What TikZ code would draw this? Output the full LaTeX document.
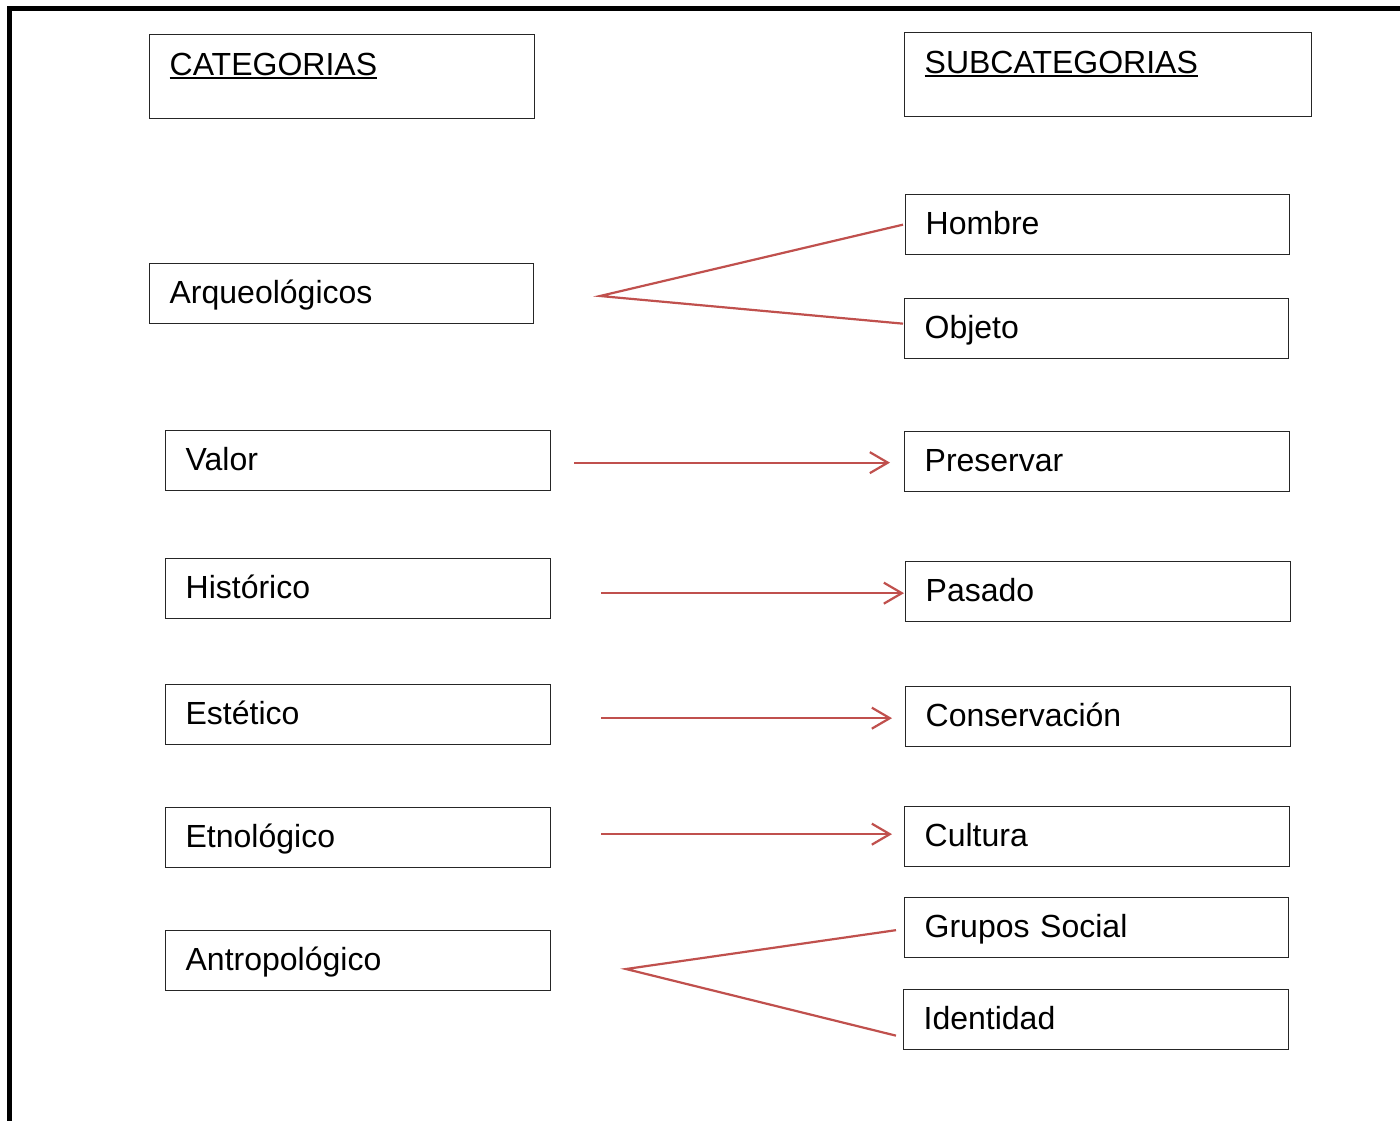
\documentclass[tikz,border=0pt]{standalone}
\usepackage{fontspec}
\setmainfont{Liberation Sans}
\usetikzlibrary{arrows.meta}
\definecolor{linkred}{HTML}{C0504D}
\newcommand\ulword[1]{\setbox0\hbox{#1}\rlap{\rule[-3.5pt]{\wd0}{2pt}}\box0}
\begin{document}
\begin{tikzpicture}[x=1pt,y=-1pt,
  box/.style={draw=black!85, line width=1.3pt, rectangle, anchor=north west,
    inner xsep=20pt, inner ysep=0pt, text height=40pt, text depth=20pt,
    text width=345pt, align=left, font=\fontsize{32}{38}\selectfont},
  titlebox/.style={box, text height=41pt, text depth=43pt},
  link/.style={draw=linkred, line width=2.2pt},
  arr/.style={link, -{Straight Barb[length=18pt,width=21pt,line width=2.2pt]}}]
\useasboundingbox (0,0) rectangle (1400,1120);
\fill[white] (0,0) rectangle (1400,1120);
\draw[line width=5pt, line join=miter] (9.5,1130) -- (9.5,8.5) -- (1410,8.5);

\node[titlebox] (cat) at (149,34) {\ulword{CATEGORIAS}};
\node[titlebox, text width=367pt] (sub) at (904,32) {\ulword{SUBCATEGORIAS}};

\node[box, text width=344pt] (arq) at (149,263) {Arqueológicos};
\node[box, text width=344pt] (hom) at (905,194) {Hombre};
\node[box, text width=344pt] (obj) at (904,298) {Objeto};
\node[box] (val) at (165,430) {Valor};
\node[box] (pre) at (904,431) {Preservar};
\node[box] (his) at (165,558) {Histórico};
\node[box] (pas) at (905,561) {Pasado};
\node[box] (est) at (165,684) {Estético};
\node[box] (con) at (905,686) {Conservación};
\node[box] (etn) at (165,807) {Etnológico};
\node[box] (cul) at (904,806) {Cultura};
\node[box] (ant) at (165,930) {Antropológico};
\node[box, text width=344pt] (gru) at (904,897) {Grupos Social};
\node[box] (ide) at (903,989) {Identidad};

\coordinate (pa) at (600,296);
\coordinate (pb) at (626,969);

\draw[link] ([xshift=-2pt]hom.west) -- (pa) -- ([xshift=-1pt,yshift=5pt]obj.west);
\draw[link] ([xshift=-8pt,yshift=-2.5pt]gru.west) -- (pb) -- ([xshift=-7pt,yshift=-16pt]ide.west);

\coordinate (t1) at ([yshift=-1pt]pre.west);
\coordinate (t2) at ([yshift=-1.5pt]pas.west);
\coordinate (t3) at ([yshift=-1.5pt]con.west);
\coordinate (t4) at ([yshift=2.5pt]cul.west);
\draw[arr] ([xshift=23pt]val.east |- t1) -- ([xshift=-14pt]t1);
\draw[arr] ([xshift=50pt]his.east |- t2) -- ([xshift=-1pt]t2);
\draw[arr] ([xshift=50pt]est.east |- t3) -- ([xshift=-13pt]t3);
\draw[arr] ([xshift=50pt]etn.east |- t4) -- ([xshift=-12pt]t4);
\end{tikzpicture}
\end{document}
